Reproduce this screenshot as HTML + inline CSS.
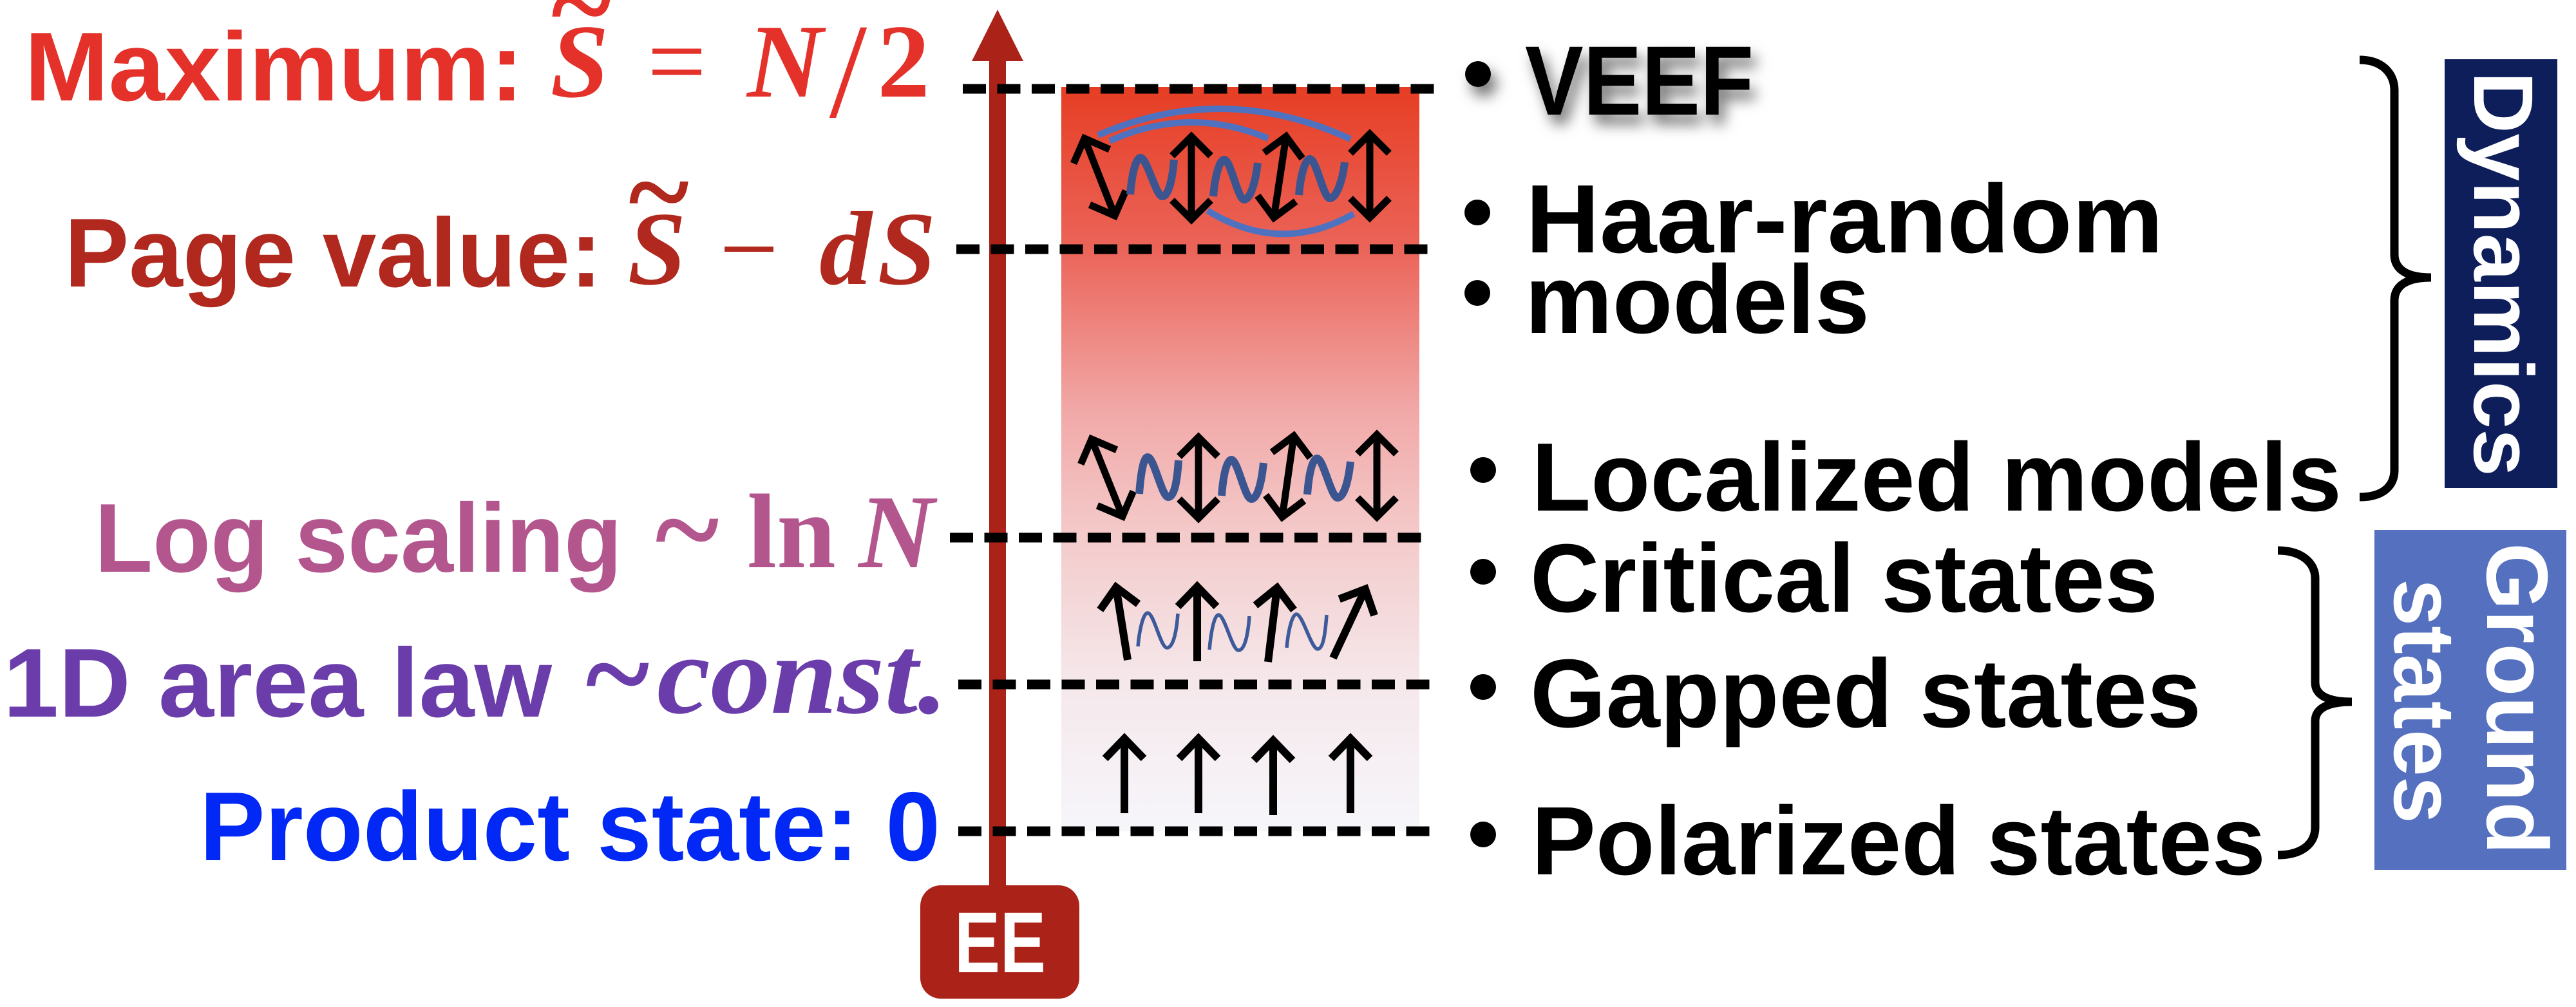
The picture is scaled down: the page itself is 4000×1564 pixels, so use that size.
<!DOCTYPE html>
<html>
<head>
<meta charset="utf-8">
<style>
  html,body{margin:0;padding:0;background:#fff;}
  body{width:4000px;height:1564px;overflow:hidden;}
  svg{display:block;}
  .sans{font-family:"Liberation Sans", Arial, sans-serif;font-weight:bold;}
  .ser{font-family:"Liberation Serif", "Times New Roman", serif;}
</style>
</head>
<body>
<svg width="4000" height="1564" viewBox="0 0 4000 1564" xmlns="http://www.w3.org/2000/svg">
  <defs>
    <linearGradient id="grad" x1="0" y1="0" x2="0" y2="1">
      <stop offset="0" stop-color="#E63E24"/>
      <stop offset="0.218" stop-color="#EB6459"/>
      <stop offset="0.437" stop-color="#F1A9A8"/>
      <stop offset="0.606" stop-color="#F4CBCB"/>
      <stop offset="0.803" stop-color="#F5E8EB"/>
      <stop offset="1" stop-color="#F6F6FB"/>
    </linearGradient>
    <marker id="a9" markerUnits="userSpaceOnUse" viewBox="-60 -60 120 120" markerWidth="120" markerHeight="120" refX="0" refY="0" orient="auto-start-reverse" overflow="visible">
      <path d="M-30,-30 L0,0 L-30,30" fill="none" stroke="#000" stroke-width="11"/>
    </marker>
    <marker id="a11" markerUnits="userSpaceOnUse" viewBox="-60 -60 120 120" markerWidth="120" markerHeight="120" refX="0" refY="0" orient="auto-start-reverse" overflow="visible">
      <path d="M-31,-30 L0,0 L-31,30" fill="none" stroke="#000" stroke-width="12"/>
    </marker>
    <filter id="sh" x="-30%" y="-40%" width="180%" height="220%">
      <feDropShadow dx="9" dy="15" stdDeviation="11" flood-color="#000" flood-opacity="0.55"/>
    </filter>
  </defs>

  <rect x="0" y="0" width="4000" height="1564" fill="#fff"/>

  <!-- gradient column -->
  <rect x="1648" y="135" width="556" height="1156" fill="url(#grad)"/>

  <!-- EE axis -->
  <rect x="1536" y="90" width="26" height="1290" fill="#AB2218"/>
  <polygon points="1549,15 1509,95 1589,95" fill="#AB2218"/>

  <!-- dashed lines -->
  <g stroke="#000" stroke-width="15" stroke-dasharray="36 17.5" fill="none">
    <line x1="1495" y1="138" x2="2232" y2="138"/>
    <line x1="1485" y1="387" x2="2221" y2="387"/>
    <line x1="1475" y1="835" x2="2214" y2="835"/>
    <line x1="1488" y1="1063" x2="2225" y2="1063"/>
    <line x1="1488" y1="1291" x2="2225" y2="1291"/>
  </g>

  <!-- EE box -->
  <rect x="1429" y="1375" width="247" height="176" rx="32" ry="32" fill="#AB2218"/>
  <text class="sans" x="1553" y="1510" text-anchor="middle" font-size="134" fill="#fff" textLength="142" lengthAdjust="spacingAndGlyphs">EE</text>

  <!-- top row arcs -->
  <g fill="none" stroke="#4F72C0" stroke-width="10">
    <path d="M1705,210 Q1900,125 2097,216"/>
    <path d="M1723,219 Q1846,163 1969,215"/>
    <path d="M1875,327 Q1988,397 2102,332"/>
  </g>
  <!-- top row arrows -->
  <g stroke="#000" stroke-width="11" fill="none">
    <line x1="1731" y1="335" x2="1684" y2="215" marker-start="url(#a9)" marker-end="url(#a9)"/>
    <line x1="1850" y1="341" x2="1850" y2="212" marker-start="url(#a9)" marker-end="url(#a9)"/>
    <line x1="1978" y1="338" x2="1997" y2="212" marker-start="url(#a9)" marker-end="url(#a9)"/>
    <line x1="2127" y1="338" x2="2127" y2="208" marker-start="url(#a9)" marker-end="url(#a9)"/>
  </g>
  <g stroke="#3B5590" stroke-width="12" fill="none">
    <path d="M1755,302 C1757,275 1763,245 1771,245 C1781,245 1795,305 1805,305 C1815,305 1821,275 1823,248"/>
    <path d="M1884,305 C1886,278 1893,248 1901,248 C1911,248 1922,310 1932,310 C1942,310 1950,280 1953,253"/>
    <path d="M2017,303 C2019,276 2026,247 2034,247 C2044,247 2055,308 2065,308 C2075,308 2085,280 2088,252"/>
  </g>

  <!-- localized row -->
  <g stroke="#000" stroke-width="11" fill="none">
    <line x1="1743" y1="802" x2="1695" y2="682" marker-start="url(#a9)" marker-end="url(#a9)"/>
    <line x1="1861" y1="805" x2="1861" y2="679" marker-start="url(#a9)" marker-end="url(#a9)"/>
    <line x1="1991" y1="803" x2="2009" y2="677" marker-start="url(#a9)" marker-end="url(#a9)"/>
    <line x1="2138" y1="803" x2="2138" y2="675" marker-start="url(#a9)" marker-end="url(#a9)"/>
  </g>
  <g stroke="#3B5590" stroke-width="12" fill="none">
    <path d="M1769,767 C1771,740 1775,710 1782,710 C1792,710 1804,772 1814,772 C1824,772 1828,745 1830,715"/>
    <path d="M1897,770 C1899,743 1904,714 1912,714 C1922,714 1933,775 1943,775 C1953,775 1959,748 1962,719"/>
    <path d="M2030,768 C2032,741 2037,712 2045,712 C2055,712 2067,773 2077,773 C2087,773 2094,746 2097,717"/>
  </g>

  <!-- critical row -->
  <g stroke="#000" stroke-width="12" fill="none">
    <line x1="1751" y1="1025" x2="1733" y2="912" marker-end="url(#a11)"/>
    <line x1="1859" y1="1027" x2="1859" y2="911" marker-end="url(#a11)"/>
    <line x1="1969" y1="1028" x2="1983" y2="913" marker-end="url(#a11)"/>
    <line x1="2070" y1="1022" x2="2120" y2="915" marker-end="url(#a11)"/>
  </g>
  <g stroke="#3D5A9A" stroke-width="5.5" fill="none">
    <path d="M1767,1004 C1769,980 1775,952 1782,952 C1792,952 1802,1006 1812,1006 C1822,1006 1827,980 1829,953"/>
    <path d="M1878,1009 C1880,985 1885,955 1892,955 C1902,955 1913,1010 1923,1010 C1933,1010 1938,985 1940,957"/>
    <path d="M1998,1006 C2000,982 2006,954 2013,954 C2023,954 2036,1008 2046,1008 C2055,1008 2058,982 2060,955"/>
  </g>

  <!-- polarized row -->
  <g stroke="#000" stroke-width="12" fill="none">
    <line x1="1746" y1="1263" x2="1746" y2="1147" marker-end="url(#a11)"/>
    <line x1="1861" y1="1263" x2="1861" y2="1147" marker-end="url(#a11)"/>
    <line x1="1977" y1="1266" x2="1977" y2="1150" marker-end="url(#a11)"/>
    <line x1="2097" y1="1263" x2="2097" y2="1147" marker-end="url(#a11)"/>
  </g>

  <!-- LEFT LABELS -->
  <text class="sans" x="38" y="156" font-size="152" fill="#E4322B" textLength="775" lengthAdjust="spacingAndGlyphs">Maximum:</text>
  <g class="ser" fill="#E4322B" text-anchor="middle">
    <text x="903" y="68" font-size="180" font-weight="bold">~</text>
    <text x="900" y="150" font-size="163" font-weight="bold" font-style="italic">S</text>
    <text x="1051" y="150" font-size="163">=</text>
    <text x="1219" y="150" font-size="163" font-weight="bold" font-style="italic">N</text>
    <text x="1317" y="181" font-size="210">/</text>
    <text x="1403" y="150" font-size="163" font-weight="bold">2</text>
  </g>

  <text class="sans" x="100" y="445" font-size="152" fill="#B0281E" textLength="835" lengthAdjust="spacingAndGlyphs">Page value:</text>
  <g class="ser" fill="#B0281E" text-anchor="middle">
    <text x="1023" y="358" font-size="180" font-weight="bold">~</text>
    <text x="1020" y="441" font-size="163" font-weight="bold" font-style="italic">S</text>
    <text x="1163" y="441" font-size="163">−</text>
    <text x="1313" y="441" font-size="163" font-weight="bold" font-style="italic">d</text>
    <text x="1408" y="441" font-size="163" font-weight="bold" font-style="italic">S</text>
  </g>

  <text class="sans" x="147" y="888" font-size="152" fill="#B4568E" textLength="819" lengthAdjust="spacingAndGlyphs">Log scaling</text>
  <g class="ser" fill="#B4568E" text-anchor="middle">
    <text x="1067" y="886" font-size="190" font-weight="bold">~</text>
    <text x="1229" y="881" font-size="165" font-weight="bold">ln</text>
    <text x="1392" y="881" font-size="163" font-weight="bold" font-style="italic">N</text>
  </g>

  <text class="sans" x="5" y="1113" font-size="152" fill="#6B3DAB" textLength="852" lengthAdjust="spacingAndGlyphs">1D area law</text>
  <g class="ser" fill="#6B3DAB">
    <text x="959" y="1110" font-size="190" font-weight="bold" text-anchor="middle">~</text>
    <text x="1020" y="1107" font-size="175" font-weight="bold" font-style="italic" textLength="452" lengthAdjust="spacingAndGlyphs">const.</text>
  </g>

  <text class="sans" x="310" y="1336" font-size="152" fill="#0228F5" textLength="1150" lengthAdjust="spacingAndGlyphs">Product state: 0</text>

  <!-- RIGHT LABELS -->
  <g filter="url(#sh)">
    <circle cx="2295" cy="115" r="20" fill="#000"/>
    <text class="sans" x="2368" y="178" font-size="153" fill="#000" textLength="355" lengthAdjust="spacingAndGlyphs">VEEF</text>
  </g>

  <g fill="#000">
    <circle cx="2294" cy="330" r="20"/>
    <circle cx="2294" cy="455" r="20"/>
    <circle cx="2303" cy="730" r="20"/>
    <circle cx="2303" cy="888" r="20"/>
    <circle cx="2303" cy="1067" r="20"/>
    <circle cx="2303" cy="1296" r="20"/>
  </g>
  <g class="sans" fill="#000" font-size="151">
    <text x="2369" y="392" textLength="990" lengthAdjust="spacingAndGlyphs">Haar-random</text>
    <text x="2368" y="517" textLength="535" lengthAdjust="spacingAndGlyphs">models</text>
    <text x="2378" y="793" textLength="1258" lengthAdjust="spacingAndGlyphs">Localized models</text>
    <text x="2376" y="950" textLength="975" lengthAdjust="spacingAndGlyphs">Critical states</text>
    <text x="2376" y="1129" textLength="1042" lengthAdjust="spacingAndGlyphs">Gapped states</text>
    <text x="2378" y="1358" textLength="1140" lengthAdjust="spacingAndGlyphs">Polarized states</text>
  </g>

  <!-- braces -->
  <g fill="none" stroke="#000" stroke-width="13">
    <path d="M3664,93 C3700,93 3718,115 3718,140 L3718,395 C3718,420 3740,431 3775,431 C3740,431 3718,442 3718,467 L3718,730 C3718,755 3700,772 3664,772"/>
    <path d="M3537,855 C3575,855 3595,875 3595,898 L3595,1060 C3595,1080 3615,1090 3652,1090 C3615,1090 3595,1100 3595,1120 L3595,1285 C3595,1310 3575,1328 3537,1328"/>
  </g>

  <!-- Dynamics box -->
  <rect x="3796" y="92" width="175" height="666" fill="#0E1E5B"/>
  <text class="sans" transform="translate(3842,425) rotate(90)" x="-314" y="0" font-size="131" fill="#fff" textLength="629" lengthAdjust="spacingAndGlyphs">Dynamics</text>

  <!-- Ground states box -->
  <rect x="3687" y="823" width="298" height="528" fill="#5470BF"/>
  <text class="sans" transform="translate(3862,1085) rotate(90)" x="-242" y="0" font-size="135" fill="#fff" textLength="484" lengthAdjust="spacingAndGlyphs">Ground</text>
  <text class="sans" transform="translate(3718,1089) rotate(90)" x="-190" y="0" font-size="135" fill="#fff" textLength="380" lengthAdjust="spacingAndGlyphs">states</text>
</svg>
</body>
</html>
